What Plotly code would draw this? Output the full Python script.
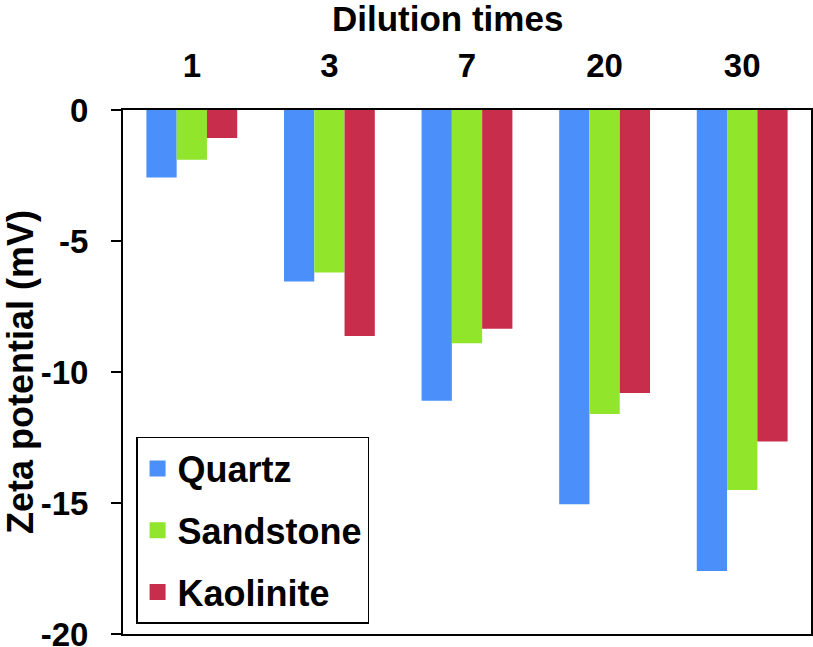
import plotly.graph_objects as go

# dilution times (categories) and zeta potential in mV
dilution = ['1', '3', '7', '20', '30']
quartz = [-2.58, -6.55, -11.1, -15.05, -17.6]
sandstone = [-1.9, -6.2, -8.9, -11.6, -14.5]
kaolinite = [-1.07, -8.63, -8.35, -10.8, -12.65]

ytick_vals = [0, -5, -10, -15, -20]
ytick_text = ['0', '-5', '-10', '-15', '-20']

series = [
    ('Quartz', quartz, '#4A8FFA'),
    ('Sandstone', sandstone, '#91E52A'),
    ('Kaolinite', kaolinite, '#C82E4B'),
]

FONT = 'Liberation Sans, Arial, sans-serif'

fig = go.Figure()
for i, (name, vals, color) in enumerate(series):
    fig.add_trace(go.Bar(x=dilution, y=vals, name=name, marker_color=color,
                         marker_line_width=0, showlegend=False))
    # legend-only trace so the swatch can be bigger than plotly's bar icon
    fig.add_trace(go.Scatter(x=[None], y=[None], mode='markers', name=name,
                             marker=dict(symbol='square', size=20, color=color),
                             legendgroup=name))

fig.update_layout(
    width=813, height=647,
    margin=dict(l=123, r=2, t=110, b=13),
    plot_bgcolor='white', paper_bgcolor='white',
    barmode='group', bargap=0.34, bargroupgap=0,
    font=dict(family=FONT, color='black'),
    legend=dict(
        x=0.019, y=0.376, xanchor='left', yanchor='top',
        bordercolor='black', borderwidth=1.5, bgcolor='white',
        font=dict(size=36, weight='bold', family=FONT),
        tracegroupgap=12,
    ),
    # top axis title sits a little left of the plot centre in the original
    annotations=[dict(text='Dilution times', xref='paper', yref='paper',
                      x=0.471, y=1.0, yshift=70, xanchor='center', yanchor='bottom',
                      showarrow=False, font=dict(size=35, weight='bold'))],
)

fig.update_xaxes(
    side='top', type='category', automargin=False,
    showline=True, linecolor='black', linewidth=2, mirror=True,
    ticks='', showgrid=False,
    tickfont=dict(size=33, weight='bold'),
    ticklabelstandoff=18,
)
fig.update_yaxes(
    range=[-20, 0], tickvals=ytick_vals, ticktext=ytick_text, automargin=False,
    showline=True, linecolor='black', linewidth=2, mirror=True,
    ticks='outside', ticklen=10, tickwidth=1.5, tickcolor='black',
    showgrid=False, zeroline=False, ticklabeloverflow='allow',
    tickfont=dict(size=33, weight='bold'),
    ticklabelstandoff=16,
    title=dict(text='Zeta potential (mV)', font=dict(size=36, weight='bold'), standoff=6),
)

fig.write_html('out.html', post_script="document.body.style.margin='0';",
               config={'displayModeBar': False})
